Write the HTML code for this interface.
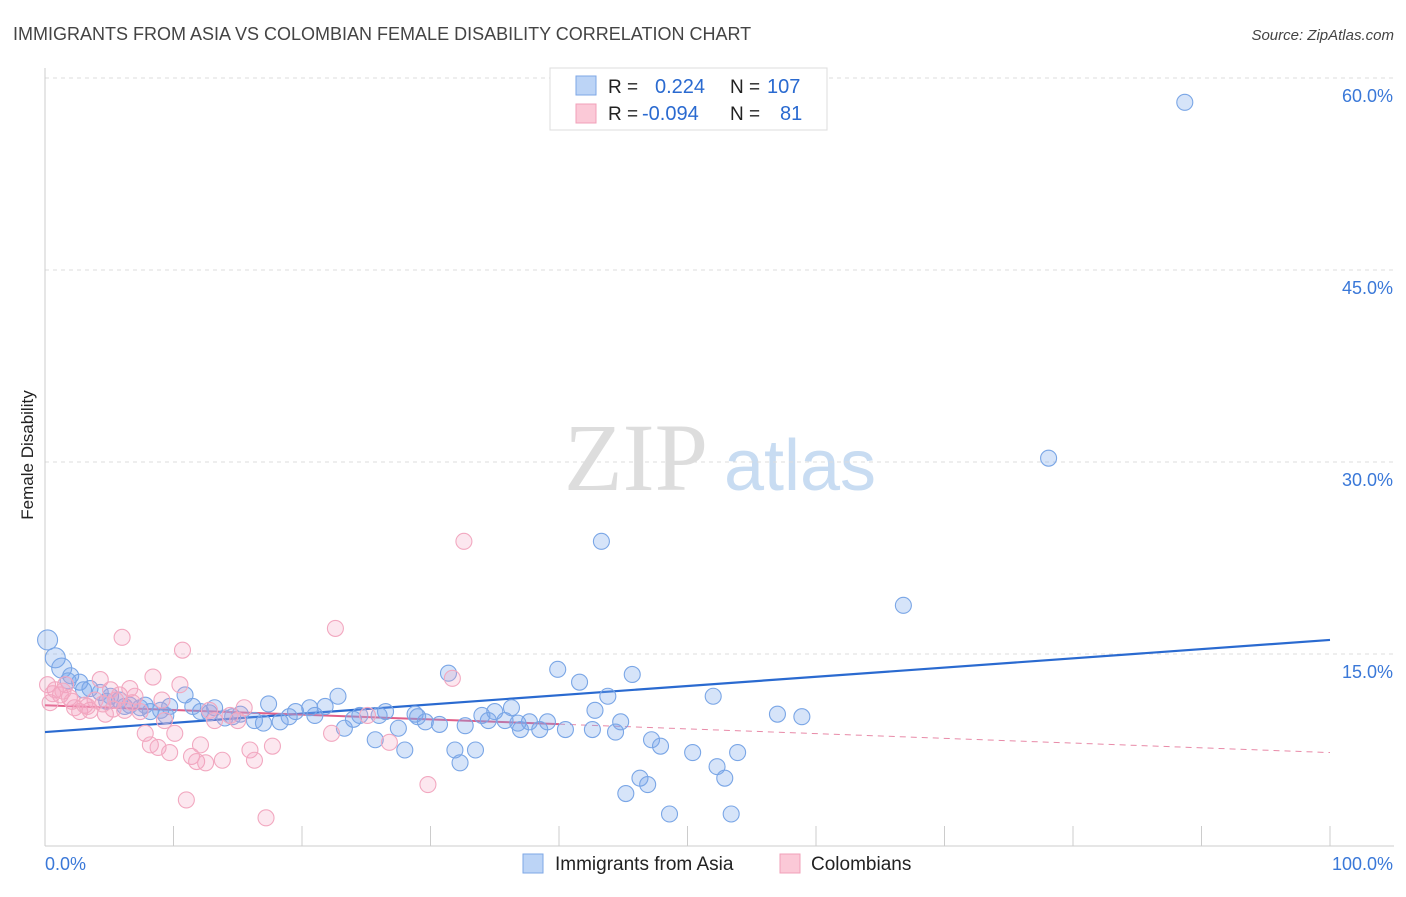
<!DOCTYPE html>
<html><head><meta charset="utf-8"><style>
body{margin:0;background:#fff;font-family:"Liberation Sans",sans-serif;}
svg text{font-family:"Liberation Sans",sans-serif;}
</style></head><body>
<svg id="chart" width="1406" height="892" xmlns="http://www.w3.org/2000/svg">
<text x="13" y="40" font-size="18" fill="#444">IMMIGRANTS FROM ASIA VS COLOMBIAN FEMALE DISABILITY CORRELATION CHART</text>
<text x="1394" y="40" font-size="15" fill="#444" text-anchor="end" font-style="italic">Source: ZipAtlas.com</text>
<text transform="translate(33,455) rotate(-90)" font-size="17" fill="#222" text-anchor="middle">Female Disability</text>
<g>
<text x="636" y="490" font-size="96" fill="#ddd" style="font-family:'Liberation Serif',serif" text-anchor="middle">ZIP</text>
<text x="800" y="490" font-size="72" fill="#c8dcf2" text-anchor="middle">atlas</text>
</g>
<g id="grid"></g><g id="axes"></g><g id="trends"></g><g id="pts"></g>
<g>
<rect x="550" y="68" width="277" height="62" fill="#fff" stroke="#ddd"/>
<rect x="576" y="76" width="20" height="19" fill="#bcd4f6" stroke="#7ea7e6"/>
<rect x="576" y="104" width="20" height="19" fill="#fbc9d7" stroke="#f2a0b8"/>
<text x="608" y="93" font-size="19" fill="#222">R = </text><text x="655" y="93" font-size="20" fill="#2a6ad0">0.224</text>
<text x="730" y="93" font-size="19" fill="#222">N = </text><text x="767" y="93" font-size="20" fill="#2a6ad0">107</text>
<text x="608" y="120" font-size="19" fill="#222">R = </text><text x="642" y="120" font-size="20" fill="#2a6ad0">-0.094</text>
<text x="730" y="120" font-size="19" fill="#222">N = </text><text x="780" y="120" font-size="20" fill="#2a6ad0">81</text>
</g>
<g>
<rect x="523" y="854" width="20" height="19" fill="#bcd4f6" stroke="#7ea7e6"/>
<text x="555" y="870" font-size="19" fill="#222">Immigrants from Asia</text>
<rect x="780" y="854" width="20" height="19" fill="#fbc9d7" stroke="#f2a0b8"/>
<text x="811" y="870" font-size="19" fill="#222">Colombians</text>
</g>
</svg>
<script>
const yTicks=[15,30,45,60];
const yTickLabels=["15.0%","30.0%","45.0%","60.0%"];
const xTicks=[0,10,20,30,40,50,60,70,80,90,100];
const asiaX=[0.2,0.8,1.3,2,2.7,3.5,4.3,5.1,5.8,6.6,7.4,8.2,9,9.7,10.9,12.1,13.2,14,15.2,16.3,17.4,18.3,19.5,20.6,21.8,22.8,23.3,24.5,25.7,26.5,27.5,28,28.8,29.6,30.7,31.4,31.9,32.3,32.7,33.5,34,35,35.8,36.3,37,37.7,38.5,39.1,39.9,40.5,41.6,42.6,42.8,43.3,43.8,44.4,44.8,45.2,45.7,46.3,46.9,47.2,47.9,48.6,50.4,52,52.3,52.9,53.4,53.9,57,58.9,66.8,78.1,88.7,1.8,3,4.8,6.2,7.8,9.4,11.5,12.8,14.6,17,19,21,24,26,29,34.5,36.8];
const asiaY=[16.1,14.7,13.9,13.3,12.8,12.3,12,11.7,11.4,11,10.8,10.5,10.6,10.9,11.8,10.5,10.8,10,10.3,9.8,11.1,9.7,10.5,10.8,10.9,11.7,9.2,10.2,8.3,10.5,9.2,7.5,10.3,9.7,9.5,13.5,7.5,6.5,9.4,7.5,10.2,10.5,9.8,10.8,9.1,9.7,9.1,9.7,13.8,9.1,12.8,9.1,10.6,23.8,11.7,8.9,9.7,4.1,13.4,5.3,4.8,8.3,7.8,2.5,7.3,11.7,6.2,5.3,2.5,7.3,10.3,10.1,18.8,30.3,58.1,12.9,12.2,11.3,10.9,11,10.2,10.9,10.4,10.1,9.6,10.1,10.2,9.9,10.2,10.1,9.8,9.6];
const colX=[0.2,0.4,0.8,1.2,1.6,1.9,2.3,2.7,3.1,3.5,3.9,4.3,4.7,5.1,5.5,5.8,6,6.2,6.6,7,7.4,7.8,8.2,8.4,8.8,9.1,9.3,9.7,10.1,10.5,10.7,11,11.4,11.8,12.1,12.5,12.8,13.2,13.8,14.4,15,15.5,15.95,16.3,17.2,17.7,22.3,22.6,25.1,26.8,29.8,31.7,32.6,0.6,1.4,2.1,3.3,4.5,5.3,6.8];
const colY=[12.6,11.2,12.2,11.8,12.6,11.6,10.8,10.5,11,10.6,11.4,13,10.3,12.2,11.4,11.8,16.3,10.6,12.3,11.7,10.5,8.8,7.9,13.2,7.7,11.4,9.8,7.3,8.8,12.6,15.3,3.6,7,6.6,7.9,6.5,10.6,9.8,6.7,10.2,9.8,10.8,7.5,6.7,2.2,7.8,8.8,17,10.2,8.1,4.8,13.1,23.8,11.9,12.1,11.3,10.9,11.1,10.7,11.2];
const asiaTrend=[8.9,16.1];
const colTrend=[11.0,7.3];
const NS="http://www.w3.org/2000/svg";
const X0=45,X1=1330,Y0=846,PPY=12.8;
const sx=v=>X0+(X1-X0)*v/100, sy=v=>Y0-v*PPY;
function mk(tag,attrs,parent){const e=document.createElementNS(NS,tag);for(const k in attrs)e.setAttribute(k,attrs[k]);document.getElementById(parent).appendChild(e);return e;}
yTicks.forEach((t,i)=>{
 const l=mk('line',{x1:X0,x2:1394,y1:sy(t),y2:sy(t),stroke:'#ddd','stroke-dasharray':'4,4'},'grid');
 
 
 const tx=mk('text',{x:1393,y:sy(t)+24,'font-size':18,fill:'#3a78d8','text-anchor':'end'},'grid');tx.textContent=yTickLabels[i];
 
 
});
const ax=mk('line',{x1:X0,x2:X0,y1:68,y2:Y0,stroke:'#ccc'},'axes');


const bx=mk('line',{x1:X0,x2:1394,y1:Y0,y2:Y0,stroke:'#ccc'},'axes');


xTicks.forEach(t=>{const l=mk('line',{x1:sx(t),x2:sx(t),y1:Y0-20,y2:Y0,stroke:'#ccc'},'axes');
 
 });
const xl0=mk('text',{x:45,y:870,'font-size':18,fill:'#3a78d8'},'axes');xl0.textContent='0.0%';


const xl1=mk('text',{x:1393,y:870,'font-size':18,fill:'#3a78d8','text-anchor':'end'},'axes');xl1.textContent='100.0%';


asiaX.forEach((v,i)=>{const c=mk('circle',{cx:sx(v),cy:sy(asiaY[i]),r:i<3?10:8,fill:'rgba(120,165,235,0.3)',stroke:'#7aa6e6','stroke-width':1.1},'pts');
 
 });
colX.forEach((v,i)=>{const c=mk('circle',{cx:sx(v),cy:sy(colY[i]),r:8,fill:'rgba(245,160,190,0.25)',stroke:'#f2a8c0','stroke-width':1.1},'pts');
 
 });
const at=mk('line',{x1:sx(0),y1:sy(asiaTrend[0]),x2:sx(100),y2:sy(asiaTrend[1]),stroke:'#2a6ad0','stroke-width':2.2},'trends');


const cm=colTrend[0]+(colTrend[1]-colTrend[0])*0.4;
const ct=mk('line',{x1:sx(0),y1:sy(colTrend[0]),x2:sx(40),y2:sy(cm),stroke:'#e0608a','stroke-width':2},'trends');


const cd=mk('line',{x1:sx(40),y1:sy(cm),x2:sx(100),y2:sy(colTrend[1]),stroke:'#e88aa8','stroke-width':1,'stroke-dasharray':'6,5'},'trends');


</script>
</body></html>
